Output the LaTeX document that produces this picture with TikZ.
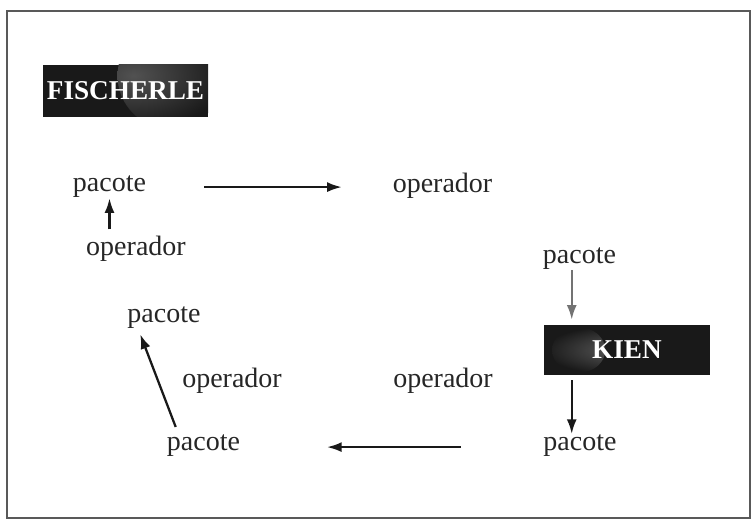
\documentclass[tikz,border=0pt]{standalone}
\usepackage{fontspec}
\setmainfont{Liberation Serif}
\usetikzlibrary{arrows.meta,calc}

\begin{document}
\begin{tikzpicture}[x=0.75pt,y=-0.75pt,
  word/.style={inner sep=0pt,anchor=base,font=\fontsize{21}{24}\selectfont,text=black!85},
  namebox/.style={fill=black!90,text=white,inner sep=0pt,
    font=\fontsize{20.4}{24}\selectfont\bfseries},
  flow/.style={line width=1.7pt,draw=black!90,-{Latex[length=11pt,width=7.5pt]}},
  faint/.style={flow,draw=black!55,fill=black!55}]

\useasboundingbox (0,0) rectangle (752,520);
% outer frame
\draw[black!65,line width=1.1pt] (7,11) rectangle (750,518);

% name boxes, with a soft lighter patch in each
\node[namebox,minimum width=124pt,minimum height=39pt,
  path picture={\shade[outer color=black!90,inner color=black!68]
    ([xshift=-28pt,yshift=-8pt]path picture bounding box.north east) circle (40pt);}]
  (fischerle) at (125.5,91) {FISCHERLE};
\node[namebox,minimum width=124.5pt,minimum height=37.5pt,
  path picture={\shade[outer color=black!90,inner color=black!62]
    ([xshift=26pt]path picture bounding box.west) ellipse (20pt and 17pt);}]
  (kien) at (627,350) {KIEN};

% words
\node[word] (pTL) at (109.5,192) {pacote};
\node[word] (oL)  at (136,255)   {operador};
\node[word] (oTR) at (442.5,193) {operador};
\node[word] (pR)  at (579.5,263) {pacote};
\node[word] (pBR) at (580,450)   {pacote};
\node[word] (oBM) at (443,387)   {operador};
\node[word] (pBL) at (203.5,450) {pacote};
\node[word] (oML) at (232,387)   {operador};
\node[word] (pML) at (164,322)   {pacote};

% connectors
\draw[flow,shorten <=4.5pt] (oL.north -| pTL.base) -- (pTL.south);
\draw[flow,shorten <=43.5pt,shorten >=38pt] (pTL.east) -- (oTR.west |- pTL.east);
\draw[faint,shorten <=0.5pt,shorten >=3.75pt]
  ([xshift=21pt]kien.north west |- pR.south) -- ([xshift=21pt]kien.north west);
\draw[flow,shorten <=3.75pt]
  ([xshift=21pt]kien.south west) -- ([xshift=21pt]kien.south west |- pBR.north);
\draw[flow,shorten <=62pt,shorten >=65pt]
  ([yshift=-1.5pt]pBR.west) -- ([yshift=-1.5pt]pBL.east);
\draw[flow] ($(pBL.north west)+(9,-7)$) -- ($(pML.south west)+(13,6)$);
\end{tikzpicture}
\end{document}
